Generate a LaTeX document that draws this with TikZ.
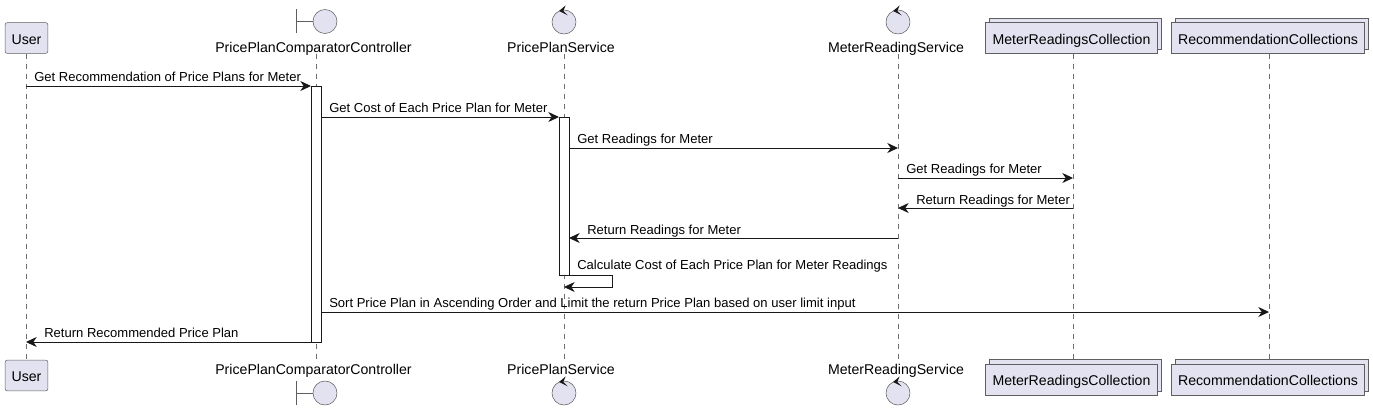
\documentclass[tikz,border=0pt]{standalone}
\usepackage{fontspec}
\setmainfont{Liberation Sans}
\usetikzlibrary{arrows.meta}
\definecolor{partfill}{HTML}{E2E2F0}
\definecolor{partline}{HTML}{5F5F5F}
\definecolor{lifegray}{HTML}{6E6E6E}
\definecolor{msgline}{HTML}{181818}
\tikzset{
  partbox/.style={draw=partline,fill=partfill,rounded corners=1.5pt,inner sep=0pt,minimum height=23pt,text height=10pt,text depth=1pt,font=\fontsize{10.6}{12}\selectfont},
  stackbox/.style={draw=partline,fill=partfill,inner sep=0pt,minimum height=23pt,text height=10pt,text depth=1pt,font=\fontsize{10.6}{12}\selectfont},
  partlabel/.style={inner sep=0pt,text height=10pt,text depth=1pt,font=\fontsize{10.6}{12}\selectfont},
  msglabel/.style={inner sep=0pt,anchor=base west,font=\fontsize{9.78}{11}\selectfont,text=black},
  partcircle/.style={circle,draw=partline,fill=partfill,inner sep=0pt,minimum size=18pt},
  lifeline/.style={draw=lifegray,line width=0.5pt,dash pattern=on 3.75pt off 3.75pt},
  msg/.style={draw=msgline,line width=0.75pt,-{Stealth[length=8pt,width=7.5pt,inset=2.5pt]}},
  actbar/.style={draw=msgline,fill=white,line width=0.75pt}
}
\begin{document}
\begin{tikzpicture}[x=0.75pt,y=-0.75pt]
  \useasboundingbox (0,0) rectangle (1373,411);
  % lifelines
  \coordinate (userL) at (26,0);
  \coordinate (compL) at (316,0);
  \coordinate (planL) at (564,0);
  \coordinate (readL) at (898,0);
  \coordinate (collL) at (1073,0);
  \coordinate (recoL) at (1269,0);
  \coordinate (compE) at (321,0);
  \coordinate (compW) at (311,0);
  \coordinate (planE) at (569,0);
  \coordinate (planW) at (559,0);
  % top row
  \node[partbox,minimum width=32pt] (userT) at (26.5,38) {User};
  \node[partlabel] (compT) at (313.5,46) {PricePlanComparatorController};
  \node[partcircle] (compCircT) at (325,21.5) {};
  \coordinate (compBarT) at (296.5,21.5);
  \draw[partline] (296.5,9) -- (296.5,33);
  \draw[partline] (compBarT) -- (compCircT);
  \node[partlabel] (planT) at (561,46) {PricePlanService};
  \node[partcircle] (planCircT) at (564,22) {};
  \node[partlabel] (readT) at (896,46) {MeterReadingService};
  \node[partcircle] (readCircT) at (898,22) {};
  \draw[partline,fill=partfill] (989.5,18.5) rectangle (1161.5,49.5);
  \node[stackbox,minimum width=129pt] (collT) at (1071.5,38) {MeterReadingsCollection};
  \draw[partline,fill=partfill] (1175.5,18.5) rectangle (1368.5,49.5);
  \node[stackbox,minimum width=145pt] (recoT) at (1268,38) {RecommendationCollections};
  % bottom row
  \node[partbox,minimum width=32pt] (userB) at (26.5,375.5) {User};
  \node[partlabel] (compB) at (313.5,368) {PricePlanComparatorController};
  \node[partcircle] (compCircB) at (325,393) {};
  \coordinate (compBarB) at (296.5,393);
  \draw[partline] (296.5,381) -- (296.5,405);
  \draw[partline] (compBarB) -- (compCircB);
  \node[partlabel] (planB) at (561,368) {PricePlanService};
  \node[partcircle] (planCircB) at (564,393) {};
  \node[partlabel] (readB) at (896,368) {MeterReadingService};
  \node[partcircle] (readCircB) at (898,393) {};
  \draw[partline,fill=partfill] (989.5,359.5) rectangle (1161.5,391.5);
  \node[stackbox,minimum width=129pt] (collB) at (1071.5,379.5) {MeterReadingsCollection};
  \draw[partline,fill=partfill] (1175.5,359.5) rectangle (1368.5,391.5);
  \node[stackbox,minimum width=145pt] (recoB) at (1268,379.5) {RecommendationCollections};
  % control heads
  \foreach \c in {planCircT,planCircB,readCircT,readCircB} {
    \fill[msgline] (\c.center) ++(-5,-11) -- ++(6.7,-5.6) -- ++(-2.4,5.6) -- ++(4.6,4.4) -- cycle;
  }
  \draw[lifeline] (userT) -- (userB);
  \draw[lifeline] (compL |- compT.south) -- (compL |- compB.north);
  \draw[lifeline] (planL |- planT.south) -- (planL |- planB.north);
  \draw[lifeline] (readL |- readT.south) -- (readL |- readB.north);
  \draw[lifeline] (collL |- collT.south) -- (collL |- collB.north);
  \draw[lifeline] (recoL |- recoT.south) -- (recoL |- recoB.north);
  % activations
  \draw[actbar] (311,86) rectangle (321,342);
  \draw[actbar] (559,117) rectangle (569,275);
  % messages
  \foreach \a/\b/\y in {userL/compW/86,compE/planW/117,planE/readL/148,readL/collL/178,
      collL/readL/208,readL/planE/238,compE/recoL/312,compW/userL/342} {
    \coordinate (here) at (0,\y);
    \draw[msg] (\a |- here) -- (\b |- here);
  }
  \coordinate (selfA) at (569,275);
  \coordinate (selfB) at (612,275);
  \coordinate (selfC) at (612,287);
  \coordinate (selfD) at (564,287);
  \draw[msg] (selfA) -- (selfB) -- (selfC) -- (selfD);
  % message labels
  \node[msglabel] (txtA) at (34,81.5) {Get Recommendation of Price Plans for Meter};
  \node[msglabel] (txtB) at (329,112.5) {Get Cost of Each Price Plan for Meter};
  \node[msglabel] (txtC) at (577,143.5) {Get Readings for Meter};
  \node[msglabel] (txtD) at (906,173.5) {Get Readings for Meter};
  \node[msglabel] (txtE) at (916,204) {Return Readings for Meter};
  \node[msglabel] (txtF) at (587,234) {Return Readings for Meter};
  \node[msglabel] (txtG) at (577,269) {Calculate Cost of Each Price Plan for Meter Readings};
  \node[msglabel] (txtH) at (329,307) {Sort Price Plan in Ascending Order and Limit the return Price Plan based on user limit input};
  \node[msglabel] (txtI) at (44,337.5) {Return Recommended Price Plan};
\end{tikzpicture}
\end{document}
